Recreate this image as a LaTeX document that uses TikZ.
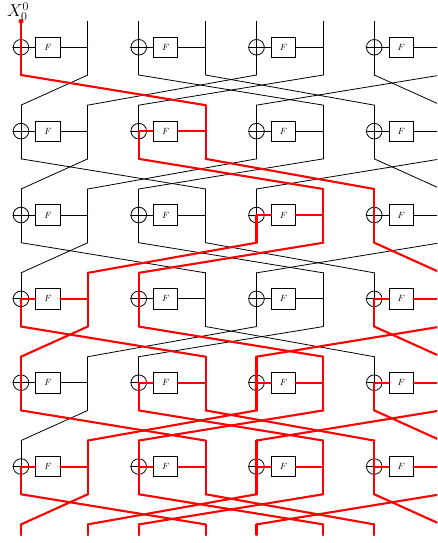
\documentclass[tikz,border=0pt]{standalone}
\usetikzlibrary{calc}
\begin{document}
\begin{tikzpicture}[x=1pt,y=-1pt,
  wire/.style={line width=0.8pt,black,line cap=round},
  hot/.style={line width=2.1pt,red,line cap=round,line join=round},
  xorn/.style={circle,draw,line width=0.8pt,minimum size=15.6pt,inner sep=0pt},
  fbox/.style={draw,line width=0.8pt,minimum width=24.3pt,minimum height=20.4pt,inner sep=0pt,font=\fontsize{9}{10}\selectfont},
]
\useasboundingbox (0,0) rectangle (437,543);
\clip (0,0) rectangle (437,543);
% coordinates and nodes
\foreach \r in {1,...,6} {
  \pgfmathsetmacro\y{47.3+83.85*(\r-1)}
  \foreach \b in {0,...,7} {
    \pgfmathsetmacro\x{21+117.75*floor(\b/2)+66.8*mod(\b,2)}
    \coordinate (T-\r-\b) at (\x,\y-26);
    \coordinate (M-\r-\b) at (\x,\y);
    \coordinate (B-\r-\b) at (\x,\y+27.7);
  }
  \foreach \i in {0,...,3} {
    \pgfmathsetmacro\x{21+117.75*\i}
    \node[xorn] (X-\r-\i) at (\x,\y) {};
    \node[fbox] (F-\r-\i) at (\x+26.9,\y) {$F$};
  }
}
\foreach \b in {0,...,7} {
  \pgfmathsetmacro\x{21+117.75*floor(\b/2)+66.8*mod(\b,2)}
  \coordinate (T-7-\b) at (\x,524.4);
  \coordinate (E-\b) at (\x,535);
}
% black wires
\foreach \r in {1,...,6} {
  \pgfmathtruncatemacro\n{\r+1}
  \foreach \b in {0,...,7} \draw[wire] (T-\r-\b) -- (B-\r-\b);
  \foreach \i in {0,...,3} {
    \pgfmathtruncatemacro\rb{2*\i+1}
    \draw[wire] (X-\r-\i.west) -- (F-\r-\i.west);
    \draw[wire] (F-\r-\i.east) -- (M-\r-\rb);
  }
  \foreach \s/\d in {0/3,1/0,2/5,3/6,4/1,5/2,6/7,7/4}
    \draw[wire] (B-\r-\s) -- (T-\n-\d);
}
\foreach \b in {0,...,7} \draw[wire] (T-7-\b) -- (E-\b);
% red trail: full verticals of red inputs
\foreach \r/\b in {1/0, 2/3, 3/5,3/6, 4/1,4/2,4/7, 5/0,5/3,5/4,5/5,5/7,
                   6/1,6/2,6/3,6/4,6/5,6/6,6/7}
  \draw[hot] (T-\r-\b) -- (B-\r-\b);
% red F functions
\foreach \r/\i in {2/1, 3/2, 4/0,4/3, 5/1,5/2,5/3, 6/0,6/1,6/2,6/3} {
  \pgfmathtruncatemacro\rb{2*\i+1}
  \pgfmathtruncatemacro\lb{2*\i}
  \draw[hot] (M-\r-\rb) -- (F-\r-\i.east);
  \draw[hot] (F-\r-\i.west) -- (X-\r-\i.center) -- (B-\r-\lb);
}
% red permutation wires
\foreach \r/\s/\d in {1/0/3, 2/2/5,2/3/6, 3/4/1,3/5/2,3/6/7,
                      4/0/3,4/1/0,4/2/5,4/6/7,4/7/4,
                      5/0/3,5/2/5,5/3/6,5/4/1,5/5/2,5/6/7,5/7/4,
                      6/0/3,6/1/0,6/2/5,6/3/6,6/4/1,6/5/2,6/6/7,6/7/4} {
  \pgfmathtruncatemacro\n{\r+1}
  \draw[hot] (B-\r-\s) -- (T-\n-\d);
}
\foreach \b in {0,...,7} \draw[hot] (T-7-\b) -- (E-\b);
% start point and label
\node[circle,fill=red,inner sep=0pt,minimum size=5pt] (dot) at (T-1-0) {};
\node[inner sep=0pt,font=\fontsize{17}{19}\selectfont] (lbl) at (18,11.5) {$X_0^0$};
\end{tikzpicture}
\end{document}
